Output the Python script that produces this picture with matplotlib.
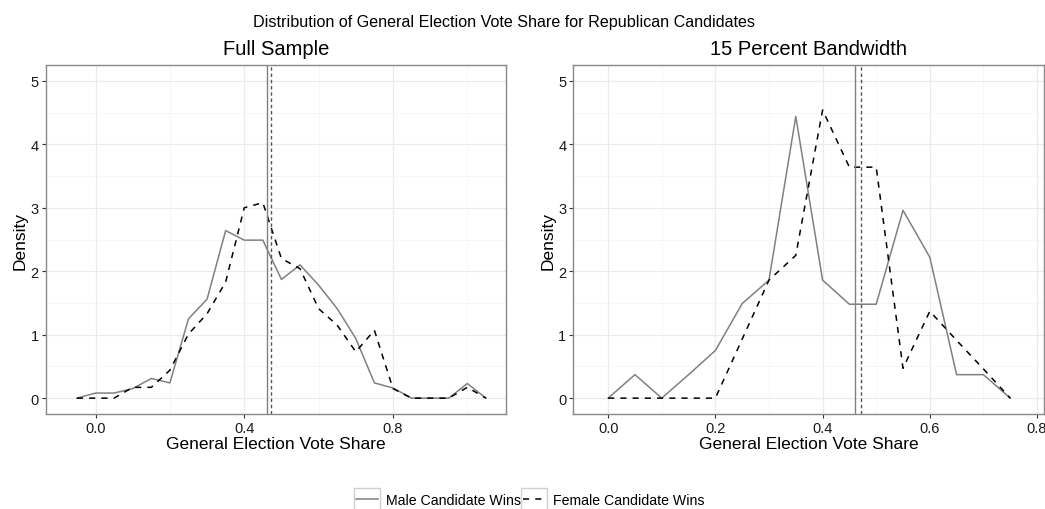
import matplotlib
matplotlib.use('Agg')
import matplotlib.pyplot as plt
import matplotlib.ticker as mticker
from matplotlib.patches import Rectangle

plt.rcParams['font.family'] = ['Liberation Sans', 'DejaVu Sans']

# frequency polygons, bin width 0.05
full_x = [-0.05, 0.0, 0.05, 0.10, 0.15, 0.20, 0.25, 0.30, 0.35, 0.40, 0.45, 0.50,
          0.55, 0.60, 0.65, 0.70, 0.75, 0.80, 0.85, 0.90, 0.95, 1.00, 1.05]
full_male = [0, 0.08, 0.08, 0.15, 0.31, 0.24, 1.25, 1.56, 2.64, 2.49, 2.49, 1.87,
             2.10, 1.78, 1.41, 0.94, 0.24, 0.16, 0, 0, 0, 0.23, 0]
full_female = [0, 0, 0, 0.17, 0.17, 0.44, 1.01, 1.33, 1.83, 3.00, 3.08, 2.20,
               2.04, 1.41, 1.15, 0.73, 1.07, 0.15, 0, 0, 0, 0.17, 0]

bw_x = [0.0, 0.05, 0.10, 0.15, 0.20, 0.25, 0.30, 0.35, 0.40, 0.45, 0.50, 0.55,
        0.60, 0.65, 0.70, 0.75]
bw_male = [0, 0.37, 0, 0.37, 0.75, 1.49, 1.86, 4.44, 1.86, 1.48, 1.48, 2.96,
           2.22, 0.37, 0.37, 0]
bw_female = [0, 0, 0, 0, 0, 0.93, 1.86, 2.25, 4.54, 3.64, 3.64, 0.47,
             1.37, 0.91, 0.46, 0]

# mean vote share by winner gender
mean_male = 0.46
mean_female = 0.471

W, H = 1045, 510
fig = plt.figure(figsize=(W / 100, H / 100), dpi=100)

def box(l, r, t, b):
    return [l / W, 1 - b / H, (r - l) / W, (b - t) / H]

ax1 = fig.add_axes(box(45.7, 506, 66, 415))
ax2 = fig.add_axes(box(573.3, 1044, 66, 415))

panels = [
    (ax1, 'Full Sample', full_x, full_male, full_female, (-0.134, 1.104), 0.4, 0.2),
    (ax2, '15 Percent Bandwidth', bw_x, bw_male, bw_female, (-0.065, 0.813), 0.2, 0.1),
]

for ax, title, xs, male, female, xlim, major, minor in panels:
    ax.set_axisbelow(True)
    ax.plot(xs, male, color='#808080', lw=1.1, label='Male Candidate Wins')
    ax.plot(xs, female, color='black', lw=1.1, dashes=(4, 4), label='Female Candidate Wins')
    ax.axvline(mean_male, color='#808080', lw=1.0)
    ax.axvline(mean_female, color='#555555', lw=1.0, dashes=(2.5, 2))
    ax.set_xlim(*xlim)
    ax.set_ylim(-0.25, 5.25)
    ax.xaxis.set_major_locator(mticker.MultipleLocator(major))
    ax.xaxis.set_minor_locator(mticker.MultipleLocator(minor))
    ax.yaxis.set_major_locator(mticker.MultipleLocator(1))
    ax.yaxis.set_minor_locator(mticker.MultipleLocator(0.5))
    ax.xaxis.set_major_formatter(mticker.FormatStrFormatter('%.1f'))
    ax.grid(which='major', color='#ebebeb', lw=0.9)
    ax.grid(which='minor', color='#f4f4f4', lw=0.5)
    ax.tick_params(which='major', length=3, width=0.8, color='#333333',
                   labelsize=10.5, labelcolor='#1a1a1a', pad=2)
    ax.tick_params(which='minor', length=0)
    for s in ax.spines.values():
        s.set_color('#888888')
        s.set_linewidth(1.0)
    ax.set_title(title, fontsize=14.5, pad=8)
    ax.set_xlabel('General Election Vote Share', fontsize=12.5, labelpad=1)
    ax.set_ylabel('Density', fontsize=12.5, labelpad=2)

fig.text(504 / W, 1 - 22 / H, 'Distribution of General Election Vote Share for Republican Candidates',
         ha='center', va='center', fontsize=11.6)

handles, labels = ax1.get_legend_handles_labels()
leg = fig.legend(handles, labels, loc='center', bbox_to_anchor=(530 / W, 1 - 501 / H),
                 ncol=2, frameon=False, fontsize=10.2, handlelength=1.55,
                 handletextpad=0.57, columnspacing=0.14, borderpad=0)

# boxed legend keys
fig.canvas.draw()
for h in leg.legend_handles:
    bb = h.get_window_extent(fig.canvas.get_renderer())
    cx = (bb.x0 + bb.x1) / 2
    cy = (bb.y0 + bb.y1) / 2
    fig.patches.append(Rectangle(((cx - 13) / W, (cy - 11) / H), 26 / W, 22 / H,
                                 transform=fig.transFigure, fill=False,
                                 edgecolor='#d0d0d0', lw=1.0, zorder=0))

fig.savefig('out.png', dpi=100)
